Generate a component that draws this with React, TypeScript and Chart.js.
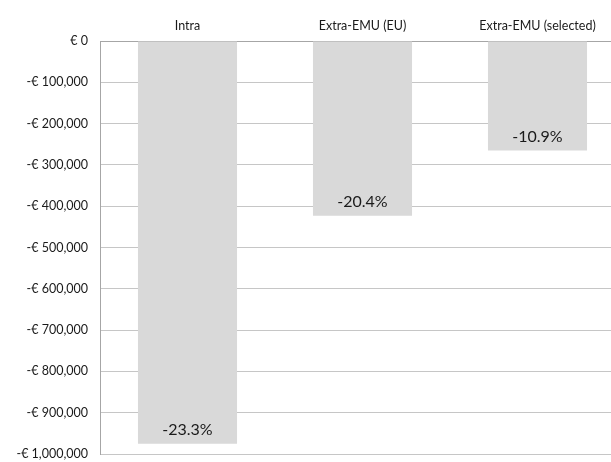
import React, { useEffect, useRef } from "react";
import { Chart, registerables } from "chart.js";

Chart.register(...registerables);

const categories = ["Intra", "Extra-EMU (EU)", "Extra-EMU (selected)"];
const values = [-975000, -423000, -265000];
const percentLabels = ["-23.3%", "-20.4%", "-10.9%"];

const FONT = "Lato, 'Open Sans', sans-serif";

const barLabelPlugin = {
  id: "barLabels",
  afterDatasetsDraw(chart: any) {
    const ctx = chart.ctx;
    const meta = chart.getDatasetMeta(0);
    ctx.save();
    ctx.font = `16px ${FONT}`;
    ctx.fillStyle = "#1a1a1a";
    ctx.textAlign = "center";
    ctx.textBaseline = "middle";
    meta.data.forEach((bar: any, i: number) => {
      ctx.fillText(percentLabels[i], bar.x, bar.y - 14);
    });
    ctx.restore();
  },
};

export default function App() {
  const ref = useRef<HTMLCanvasElement>(null);
  useEffect(() => {
    document.body.style.margin = "0";
    document.body.style.overflow = "hidden";
    const chart = new Chart(ref.current!, {
      type: "bar",
      data: {
        labels: categories,
        datasets: [
          {
            data: values,
            backgroundColor: "#d9d9d9",
            borderWidth: 0,
            barPercentage: 1,
            categoryPercentage: 0.566,
          },
        ],
      },
      options: {
        animation: false,
        responsive: false,
        maintainAspectRatio: false,
        layout: { padding: { left: 0, right: 5, top: 0, bottom: 8 } },
        plugins: { legend: { display: false }, tooltip: { enabled: false } },
        scales: {
          x: {
            position: "top",
            grid: { display: false, drawTicks: false },
            border: { display: true, color: "#a6a6a6", width: 1 },
            ticks: {
              padding: 8,
              color: "#1a1a1a",
              font: { family: FONT, size: 12.5 },
              maxRotation: 0,
            },
            afterFit: (s: any) => {
              s.height = 41;
              s.paddingLeft = 0;
              s.paddingRight = 0;
            },
          },
          y: {
            min: -1000000,
            max: 0,
            grid: { color: "#c6c6c6", drawTicks: false, lineWidth: 1 },
            border: { display: true, color: "#a6a6a6", width: 1 },
            ticks: {
              stepSize: 100000,
              padding: 12,
              color: "#1a1a1a",
              font: { family: FONT, size: 12.5 },
              callback: (v: any) =>
                v === 0 ? "€ 0" : "-€ " + Math.abs(v).toLocaleString("en-US"),
            },
            afterFit: (s: any) => {
              s.width = 100;
              s.paddingTop = 0;
              s.paddingBottom = 0;
            },
          },
        },
      },
      plugins: [barLabelPlugin],
    });
    return () => chart.destroy();
  }, []);
  return (
    <div style={{ width: 611, height: 462, overflow: "hidden" }}>
      <canvas ref={ref} width={630} height={462} style={{ display: "block" }} />
    </div>
  );
}
